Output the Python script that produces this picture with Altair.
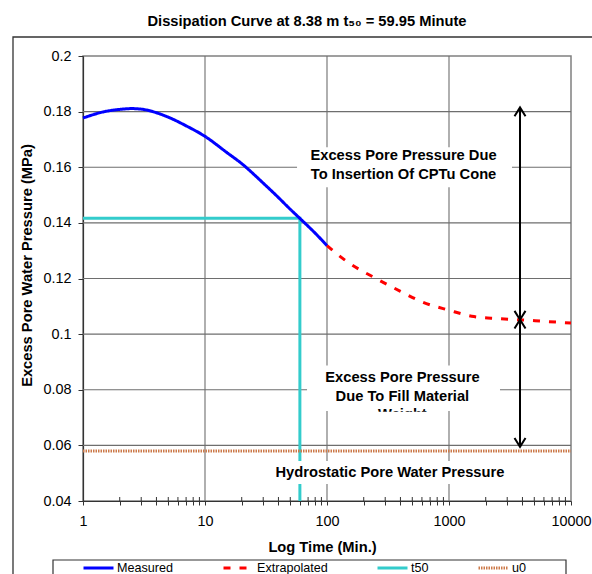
import altair as alt
import pandas as pd

FONT = "Liberation Sans"

# ---- data ----
series_names = ["Measured", "Extrapolated", "t50", "u0"]

meas_t = [1, 1.5, 2, 2.5, 3, 4, 5, 7, 10, 15, 20, 30, 40, 50, 60, 70, 80, 100]
meas_v = [0.1777, 0.1800, 0.1808, 0.1811, 0.1809, 0.1796, 0.1780, 0.1749, 0.1711,
          0.1654, 0.1613, 0.1543, 0.1491, 0.1449, 0.1416, 0.1388, 0.1363, 0.1318]

extr_t = [100, 150, 250, 400, 600, 1000, 1600, 2500, 4000, 6000, 10000]
extr_v = [0.1318, 0.1257, 0.1201, 0.1154, 0.1116, 0.1086, 0.1063, 0.1056, 0.1051, 0.1046, 0.1040]

t50_t = [1, 59.95, 59.95]
t50_v = [0.1417, 0.1417, 0.04]

u0_t = [1, 10000]
u0_v = [0.058, 0.058]

x_ticks = [m * d for d in [1, 10, 100, 1000] for m in range(1, 10)] + [10000]
x_minor = [m * d for d in [1, 10, 100, 1000] for m in range(2, 10)]
y_ticks = [0.04, 0.06, 0.08, 0.1, 0.12, 0.14, 0.16, 0.18, 0.2]
grid_x = [10, 100, 1000]
grid_y = [0.06, 0.08, 0.1, 0.12, 0.14, 0.16, 0.18]

ann_text = ["Excess Pore Pressure Due\nTo Insertion Of CPTu Cone",
            "Excess Pore Pressure\nDue To Fill Material\nWeight",
            "Hydrostatic Pore Water Pressure"]
ann_t = [424, 415, 328]
ann_v = [0.1640, 0.0842, 0.0502]

box_t0 = [56.8, 68.6, 32.8]
box_t1 = [3283, 2618, 3283]
box_v0 = [0.1528, 0.0724, 0.0461]
box_v1 = [0.1672, 0.0887, 0.0544]

cover_t0 = [225]
cover_t1 = [768]
cover_v0 = [0.0640]
cover_v1 = [0.0721]

arrow_t = 3820
arrow_top = 0.1815
arrow_mid = 0.1052
arrow_bot = 0.0595

# ---- tables ----
rows = []
for name, ts, vs in [("Measured", meas_t, meas_v), ("Extrapolated", extr_t, extr_v), ("u0", u0_t, u0_v)]:
    for i, (t, v) in enumerate(zip(ts, vs)):
        rows.append({"t": t, "v": v, "series": name, "o": i})
lines_df = pd.DataFrame(rows)
t50_df = pd.DataFrame({"t": t50_t, "v": t50_v, "series": "t50", "o": list(range(len(t50_t)))})

gx_df = pd.DataFrame({"gx": grid_x})
gy_df = pd.DataFrame({"gy": grid_y})
minor_df = pd.DataFrame({"mx": x_minor})
ann_df = pd.DataFrame({"t": ann_t, "v": ann_v, "label": ann_text})
box_df = pd.DataFrame({"t0": box_t0, "t1": box_t1, "v0": box_v0, "v1": box_v1})
cover_df = pd.DataFrame({"t0": cover_t0, "t1": cover_t1, "v0": cover_v0, "v1": cover_v1})
shaft_df = pd.DataFrame({"t": [arrow_t, arrow_t], "v0": [arrow_top, arrow_mid], "v1": [arrow_mid, arrow_bot]})
up_df = pd.DataFrame({"t": [arrow_t, arrow_t], "v": [arrow_top, arrow_mid]})
down_df = pd.DataFrame({"t": [arrow_t, arrow_t], "v": [arrow_mid, arrow_bot]})
one_df = pd.DataFrame({"a": [0]})

# ---- scales / axes ----
xs = alt.Scale(type="log", domain=[1, 10000], nice=False)
ys = alt.Scale(domain=[0.04, 0.2], nice=False, zero=False)

xaxis = alt.Axis(values=x_ticks, format="d",
                 labelExpr="indexof([1,10,100,1000,10000], datum.value) >= 0 ? datum.label : ''",
                 title="Log Time (Min.)", grid=False, tickSize=4, labelPadding=9,
                 domainColor="#333333", tickColor="#333333", domainWidth=1.2,
                 labelFont=FONT, labelFontSize=14.4, labelColor="black",
                 labelFlush=False, labelOverlap=False,
                 titleFont=FONT, titleFontSize=14.7, titleFontWeight="bold", titleColor="black",
                 titleX=239, titleY=38)
yaxis = alt.Axis(values=y_ticks, format=".2~f", title="Excess Pore Water Pressure (MPa)",
                 grid=False, tickSize=5, labelPadding=7,
                 domainColor="#333333", tickColor="#333333", domainWidth=1.2,
                 labelFont=FONT, labelFontSize=14.4, labelColor="black",
                 labelFlush=False, labelOverlap=False,
                 titleFont=FONT, titleFontSize=14.7, titleFontWeight="bold", titleColor="black",
                 titleX=-49, titleY=209)


def X(f):
    return alt.X(f"{f}:Q", scale=xs, axis=xaxis)


def Y(f):
    return alt.Y(f"{f}:Q", scale=ys, axis=yaxis)


color_scale = alt.Scale(domain=series_names, range=["#0000FF", "#FF0000", "#33CCCC", "#CC7A4A"])
dash_scale = alt.Scale(domain=series_names, range=[[1, 0], [7, 9], [1, 0], [1.5, 1]])
width_scale = alt.Scale(domain=series_names, range=[3, 3, 3, 2])

leg = alt.Legend(title=None, orient="none", legendX=-1, legendY=495, direction="horizontal",
                 columns=4, symbolType="stroke", symbolSize=900, labelFont=FONT,
                 labelFontSize=12.6, labelColor="black", columnPadding=43, labelOffset=2,
                 padding=0)


def series_enc():
    return dict(
        color=alt.Color("series:N", scale=color_scale, legend=leg),
        strokeDash=alt.StrokeDash("series:N", scale=dash_scale, legend=leg),
        strokeWidth=alt.StrokeWidth("series:N", scale=width_scale, legend=leg),
    )


# ---- layers ----
frame = alt.Chart(one_df).mark_rect(fillOpacity=0, stroke="#333333", strokeWidth=1.3).encode(
    x=alt.value(-70), x2=alt.value(600), y=alt.value(-19), y2=alt.value(600))
legend_box = alt.Chart(one_df).mark_rect(fillOpacity=0, stroke="#333333", strokeWidth=1.2).encode(
    x=alt.value(-30), x2=alt.value(483), y=alt.value(504), y2=alt.value(600))

grid_v = alt.Chart(gx_df).mark_rule(color="#6E6E6E", strokeWidth=1.1).encode(x=X("gx"))
grid_h = alt.Chart(gy_df).mark_rule(color="#6E6E6E", strokeWidth=1.1).encode(y=Y("gy"))
minor_in = alt.Chart(minor_df).mark_rule(color="#333333", strokeWidth=1).encode(
    x=X("mx"), y=alt.value(441), y2=alt.value(445))

t50_line = alt.Chart(t50_df).mark_line().encode(
    x=X("t"), y=Y("v"), order="o:Q", **series_enc())
main_lines = alt.Chart(lines_df).mark_line(interpolate="monotone").encode(
    x=X("t"), y=Y("v"), order="o:Q", detail="series:N", **series_enc())

boxes = alt.Chart(box_df).mark_rect(color="white", opacity=1).encode(
    x=X("t0"), x2="t1:Q", y=Y("v0"), y2="v1:Q")
texts = alt.Chart(ann_df).mark_text(align="center", baseline="middle", lineBreak="\n",
                                    font=FONT, fontSize=14.7, fontWeight="bold",
                                    lineHeight=18.5, color="black").encode(
    x=X("t"), y=Y("v"), text="label:N")
cover = alt.Chart(cover_df).mark_rect(color="white", opacity=1).encode(
    x=X("t0"), x2="t1:Q", y=Y("v0"), y2="v1:Q")

shafts = alt.Chart(shaft_df).mark_rule(color="black", strokeWidth=2).encode(
    x=X("t"), y=Y("v0"), y2="v1:Q")
heads_up = alt.Chart(up_df).mark_point(shape="M-1,1.6L0,0L1,1.6", size=121, filled=False,
                                       stroke="black", strokeWidth=2, opacity=1).encode(
    x=X("t"), y=Y("v"))
heads_down = alt.Chart(down_df).mark_point(shape="M-1,-1.6L0,0L1,-1.6", size=121, filled=False,
                                           stroke="black", strokeWidth=2, opacity=1).encode(
    x=X("t"), y=Y("v"))

chart = alt.layer(
    frame, legend_box, grid_v, grid_h, minor_in, t50_line, main_lines,
    boxes, texts, cover, shafts, heads_up, heads_down
).properties(
    width=488, height=445,
    padding={"left": 83, "top": 56, "right": 21, "bottom": 73},
    autosize=alt.AutoSizeParams(type="none"),
    title=alt.Title("Dissipation Curve at 8.38 m t₅₀ = 59.95 Minute", font=FONT, fontSize=14.7,
                    fontWeight="bold", color="black", anchor="middle", offset=8, dx=-20),
).configure_view(stroke="#808080", strokeWidth=1.5)

chart.save("out.html", embed_options={"renderer": "svg", "actions": False})
